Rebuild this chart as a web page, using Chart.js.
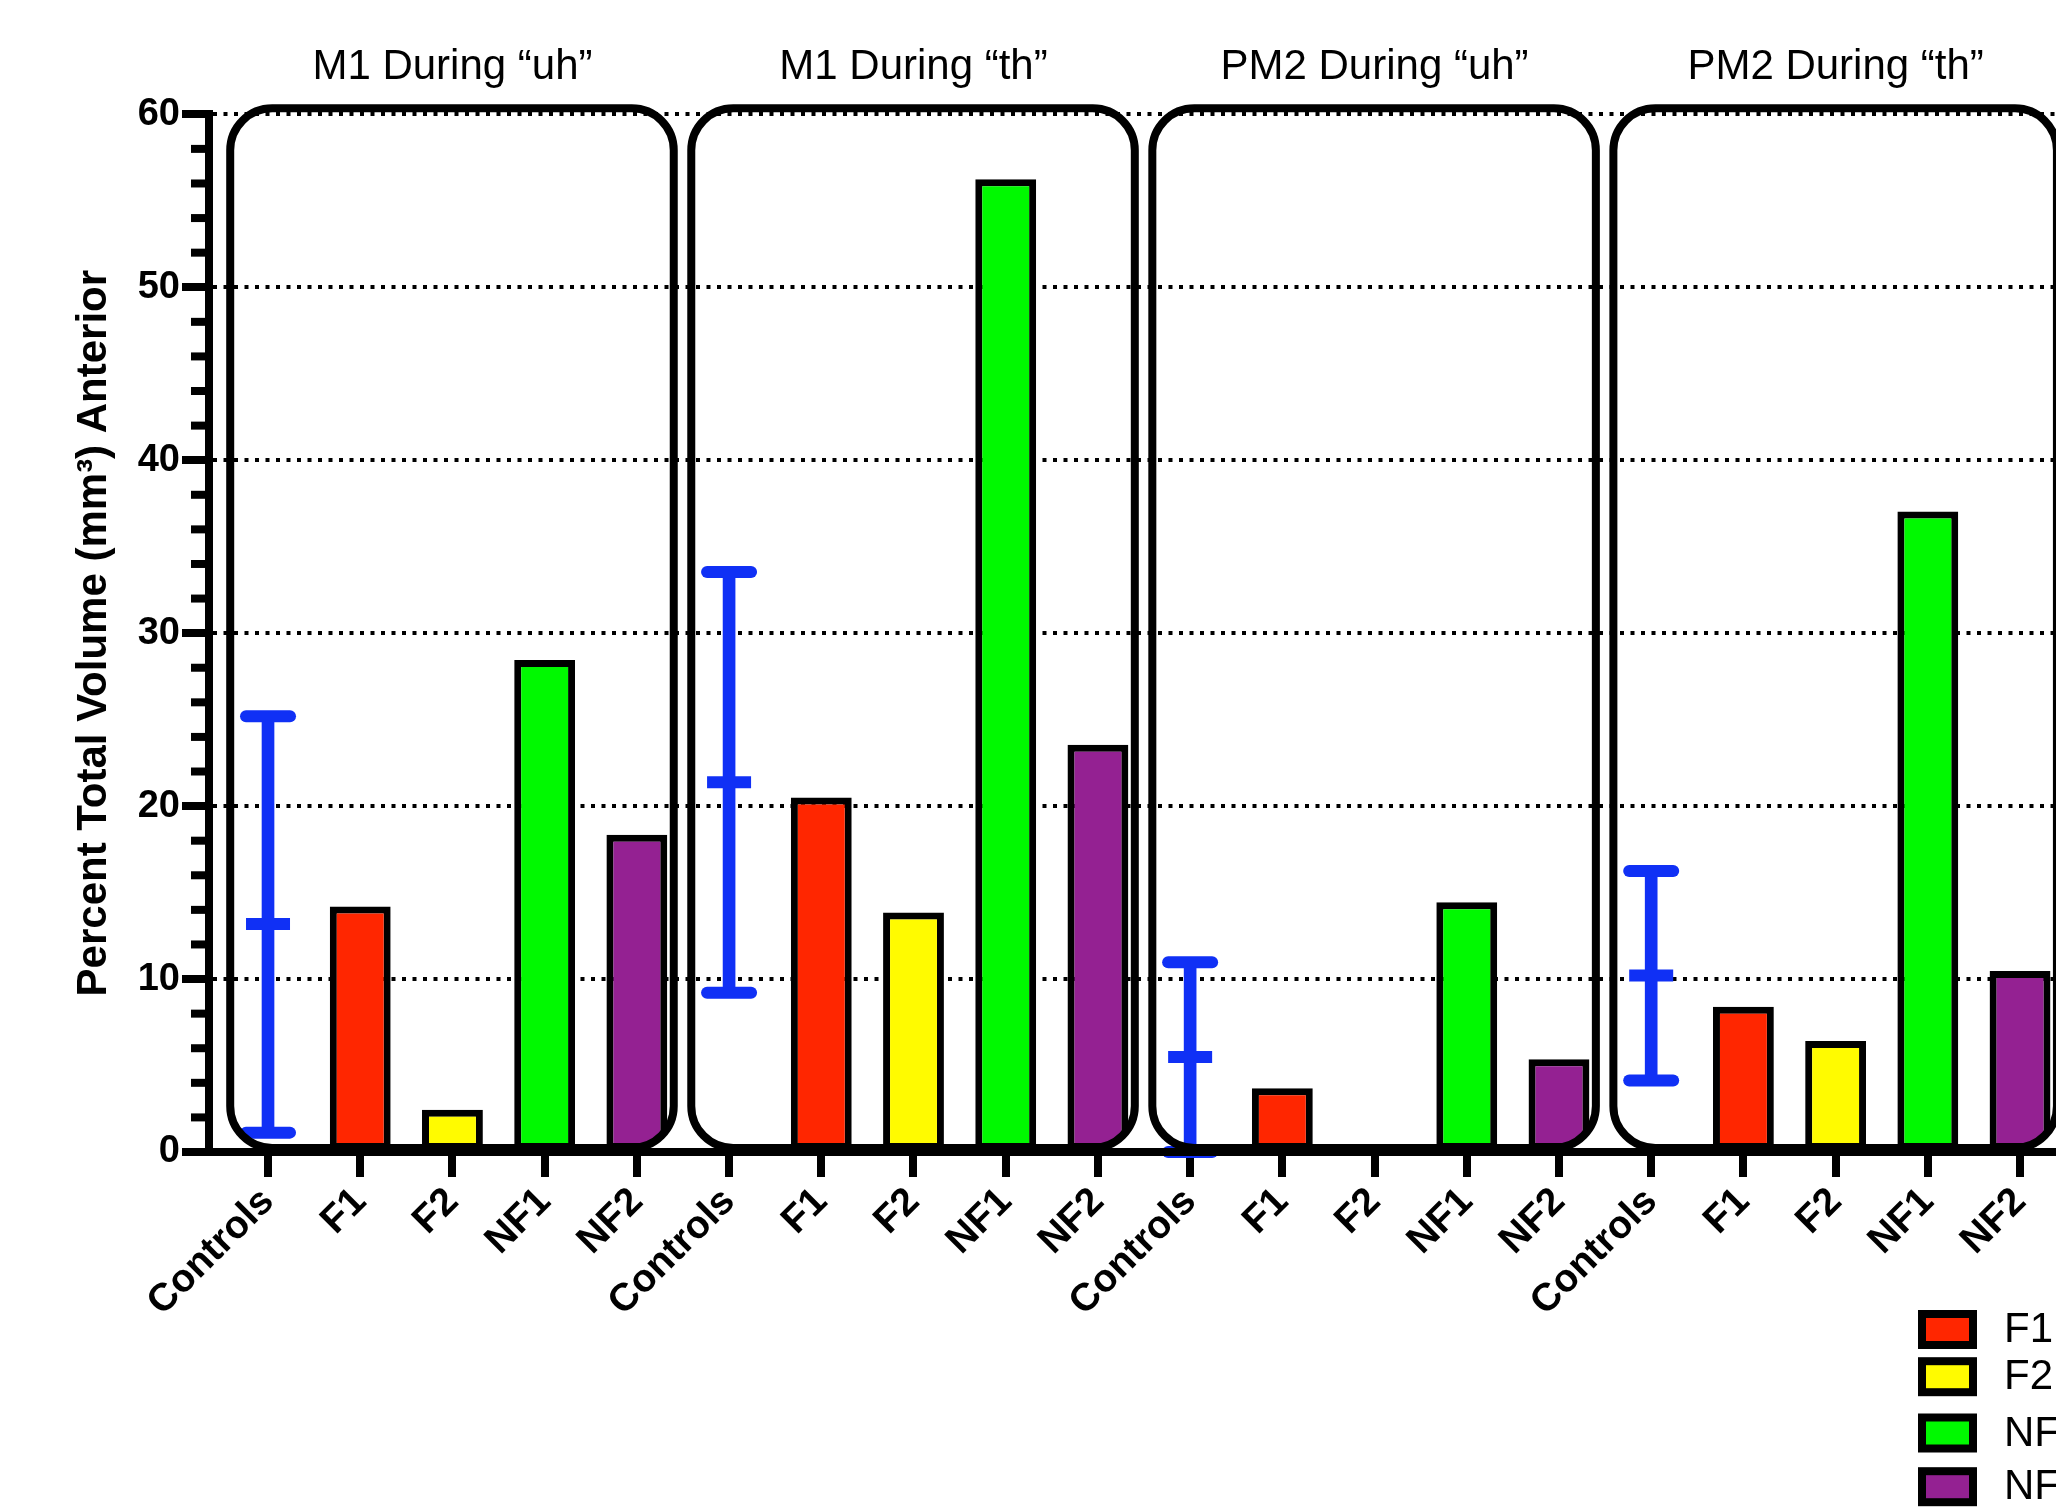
<!DOCTYPE html>
<html>
<head>
<meta charset="utf-8">
<title>Percent Total Volume Anterior</title>
<script src="https://cdn.jsdelivr.net/npm/chart.js@4.4.1/dist/chart.umd.min.js"></script>
<style>
  html, body { margin: 0; padding: 0; background: #fff; overflow: hidden; }
  #wrap { width: 2056px; height: 1510px; }
</style>
</head>
<body>
<div id="wrap"><canvas id="chart" width="2056" height="1510"></canvas></div>
<script>
const groupTitles = ['M1 During “uh”', 'M1 During “th”', 'PM2 During “uh”', 'PM2 During “th”'];
const categories = ['Controls', 'F1', 'F2', 'NF1', 'NF2'];
const seriesNames = ['F1', 'F2', 'NF1', 'NF2'];
const seriesColors = ['#FF2600', '#FFFB00', '#00F900', '#942192'];
const yTicks = [0, 10, 20, 30, 40, 50, 60];

// one value per group, same order as groupTitles
const f1Values = [14.2, 20.5, 3.68, 8.4];
const f2Values = [2.45, 13.85, 0, 6.42];
const nf1Values = [28.45, 56.25, 14.44, 37.03];
const nf2Values = [18.35, 23.55, 5.36, 10.47];

// controls: mean with range
const controlMean = [13.18, 21.38, 5.49, 10.2];
const controlUpper = [25.2, 33.53, 10.97, 16.25];
const controlLower = [1.12, 9.21, 0, 4.13];

const FONT = "'Liberation Sans', Arial, Helvetica, sans-serif";
const BLUE = '#1030F5';
Chart.defaults.font.family = FONT;
Chart.defaults.color = '#000';

const perGroup = categories.length;
const xLabels = groupTitles.flatMap(() => categories);
const series = [f1Values, f2Values, nf1Values, nf2Values];

const barPoints = [];
const barColors = [];
groupTitles.forEach((t, g) => {
    series.forEach((vals, s) => {
        barPoints.push({ x: g * perGroup + s + 1, y: vals[g] });
        barColors.push(seriesColors[s]);
    });
});

const ctrlX = groupTitles.map((t, g) => g * perGroup);
const errRange = ctrlX.map((x, g) => ({ x, y: [controlLower[g], controlUpper[g]] }));
const errCaps = ctrlX.flatMap((x, g) => [{ x, y: controlUpper[g] }, { x, y: controlLower[g] }]);
const errMeans = ctrlX.map((x, g) => ({ x, y: controlMean[g] }));

// rounded panel around each group, in axis units
function panelRects(chart) {
    const { x, y } = chart.scales;
    return groupTitles.map((t, g) => ({
        left: x.getPixelForValue(g * perGroup - 0.41),
        right: x.getPixelForValue(g * perGroup + 4.4),
        top: y.getPixelForValue(60.35),
        bottom: y.getPixelForValue(0) - 4,
    }));
}

function roundedRect(ctx, r, rad) {
    ctx.moveTo(r.left + rad, r.top);
    ctx.arcTo(r.right, r.top, r.right, r.bottom, rad);
    ctx.arcTo(r.right, r.bottom, r.left, r.bottom, rad);
    ctx.arcTo(r.left, r.bottom, r.left, r.top, rad);
    ctx.arcTo(r.left, r.top, r.right, r.top, rad);
    ctx.closePath();
}

const panelPlugin = {
    id: 'panels',
    beforeDatasetDraw(chart, args) {
        const kind = chart.data.datasets[args.index].kind;
        const ctx = chart.ctx;
        if (kind === 'bars') {
            ctx.save();
            ctx.beginPath();
            panelRects(chart).forEach(r => roundedRect(ctx, r, 42));
            ctx.clip();
        } else if (kind === 'caps') {
            ctx.save();
            ctx.lineCap = 'round';
        }
    },
    afterDatasetDraw(chart, args) {
        const kind = chart.data.datasets[args.index].kind;
        if (kind === 'bars' || kind === 'caps') chart.ctx.restore();
    },
    afterDatasetsDraw(chart) {
        const ctx = chart.ctx;
        ctx.save();
        ctx.lineWidth = 8;
        ctx.strokeStyle = '#000';
        panelRects(chart).forEach(r => {
            ctx.beginPath();
            roundedRect(ctx, r, 42);
            ctx.stroke();
        });
        ctx.restore();
    },
    afterDraw(chart) {
        const ctx = chart.ctx;
        const { x, y } = chart.scales;
        ctx.save();

        // minor ticks on the y axis
        ctx.strokeStyle = '#000';
        ctx.lineWidth = 8;
        for (let v = 2; v < 60; v += 2) {
            if (v % 10 === 0) continue;
            const py = y.getPixelForValue(v);
            ctx.beginPath();
            ctx.moveTo(y.right - 18, py);
            ctx.lineTo(y.right, py);
            ctx.stroke();
        }

        // group titles
        ctx.fillStyle = '#000';
        ctx.font = '42px ' + FONT;
        ctx.textAlign = 'center';
        ctx.textBaseline = 'alphabetic';
        groupTitles.forEach((t, g) => {
            ctx.fillText(t, x.getPixelForValue(g * perGroup + 2), 79);
        });

        // legend, bottom right
        const rows = [1329.5, 1376.7, 1433, 1486.7];
        ctx.textAlign = 'left';
        ctx.textBaseline = 'middle';
        seriesNames.forEach((name, i) => {
            const cy = rows[i];
            ctx.fillStyle = '#000';
            ctx.fillRect(1918, cy - 19.5, 59, 39);
            ctx.fillStyle = seriesColors[i];
            ctx.fillRect(1926, cy - 11.5, 43, 23);
            ctx.fillStyle = '#000';
            ctx.fillText(name, 2004, cy + 1);
        });
        ctx.restore();
    }
};

new Chart(document.getElementById('chart'), {
    type: 'bar',
    data: {
        datasets: [
            {
                kind: 'caps',
                type: 'scatter',
                data: errCaps,
                pointStyle: 'line',
                radius: 22,
                borderWidth: 12,
                borderColor: BLUE,
                clip: false,
            },
            {
                kind: 'means',
                type: 'scatter',
                data: errMeans,
                pointStyle: 'line',
                radius: 22,
                borderWidth: 12,
                borderColor: BLUE,
                clip: false,
            },
            {
                kind: 'range',
                data: errRange,
                backgroundColor: BLUE,
                borderWidth: 0,
                grouped: false,
                categoryPercentage: 1,
                barPercentage: 1,
                maxBarThickness: 12,
                clip: false,
            },
            {
                kind: 'bars',
                data: barPoints,
                backgroundColor: barColors,
                borderColor: '#000',
                borderWidth: 7,
                borderSkipped: false,
                grouped: false,
                categoryPercentage: 1,
                barPercentage: 0.66,
            },
        ],
    },
    options: {
        responsive: false,
        animation: false,
        devicePixelRatio: 1,
        events: [],
        layout: { autoPadding: false, padding: { top: 114.3, left: 0, right: 0, bottom: 0 } },
        plugins: {
            legend: { display: false },
            tooltip: { enabled: false },
        },
        scales: {
            x: {
                type: 'linear',
                min: -0.64,
                max: 19.39,
                offset: false,
                afterBuildTicks: axis => { axis.ticks = xLabels.map((l, i) => ({ value: i })); },
                afterFit: scale => {
                    scale.height = 358;
                    scale.paddingLeft = 0;
                    scale.paddingRight = 0;
                },
                border: { display: true, color: '#000', width: 8, z: 1 },
                grid: {
                    offset: false,
                    drawOnChartArea: false,
                    lineWidth: 8,
                    tickLength: 25,
                    tickWidth: 8,
                    tickColor: '#000',
                },
                ticks: {
                    autoSkip: false,
                    minRotation: 45,
                    maxRotation: 45,
                    color: '#000',
                    padding: 2,
                    font: { size: 39, weight: 'bold' },
                    callback: v => xLabels[v],
                },
            },
            y: {
                min: 0,
                max: 60,
                afterBuildTicks: axis => { axis.ticks = yTicks.map(v => ({ value: v })); },
                afterFit: scale => { scale.width = 209; },
                border: { display: true, color: '#000', width: 8, dash: [4, 6.5], z: 1 },
                grid: {
                    color: c => (c.tick && c.tick.value === 0 ? 'rgba(0,0,0,0)' : '#000'),
                    lineWidth: 4,
                    tickLength: 27,
                    tickWidth: 8,
                    tickColor: '#000',
                },
                ticks: {
                    color: '#000',
                    padding: 2,
                    font: { size: 38, weight: 'bold' },
                },
                title: {
                    display: true,
                    text: 'Percent Total Volume (mm³) Anterior',
                    color: '#000',
                    font: { size: 42, weight: 'bold', lineHeight: 1.2 },
                    padding: { top: 69, bottom: 0 },
                },
            },
        },
    },
    plugins: [panelPlugin],
});
</script>
</body>
</html>
